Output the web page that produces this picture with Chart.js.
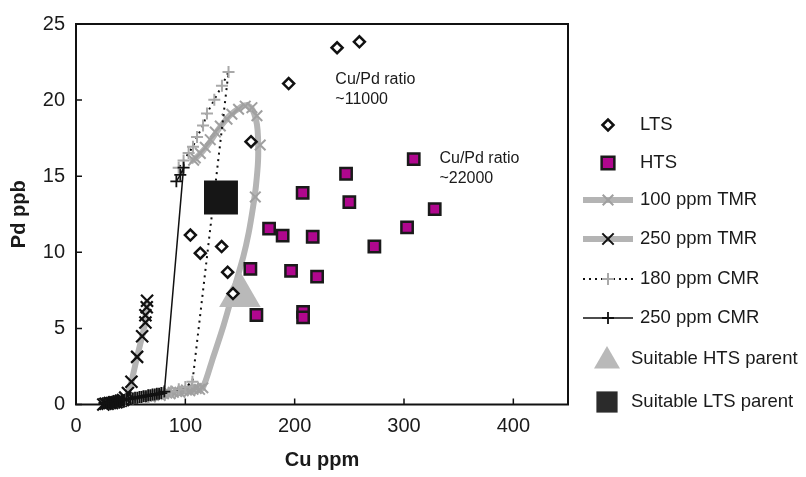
<!DOCTYPE html>
<html><head><meta charset="utf-8">
<script src="https://cdn.jsdelivr.net/npm/chart.js"></script>
<style>html,body{margin:0;padding:0;background:#fff;}#wrap{width:806px;height:477px;position:relative;}</style>
</head><body><div id="wrap"><canvas id="c" width="806" height="477"></canvas></div>
<script>
// ---------- data (Cu ppm, Pd ppb) ----------
const ltsCu = [238.8, 259.2, 194.5, 160.1, 104.6, 113.7, 133.2, 138.7, 143.6];
const ltsPd = [23.44, 23.83, 21.09, 17.27, 11.13, 9.94, 10.38, 8.69, 7.29];

const htsCu = [159.5, 176.6, 189.0, 196.7, 207.3, 207.7, 207.7, 216.5, 220.5, 247.0, 250.0, 272.9, 302.8, 308.9, 328.1, 165.0];
const htsPd = [8.91, 11.56, 11.09, 8.78, 13.91, 6.09, 5.73, 11.02, 8.40, 15.16, 13.30, 10.38, 11.64, 16.12, 12.84, 5.88];

const ltsParentCu = [132.6];
const ltsParentPd = [13.6];
const htsParentCu = [149.9];
const htsParentPd = [7.2];

// 100 ppm TMR model curve (line) and its markers
const tmr100LineCu = [40, 60, 80, 100, 110, 116, 125, 135, 145, 153, 158, 162, 164.5, 166.5, 166.5, 165.5, 163, 160.5, 157, 154, 151, 148, 144, 140, 136, 132, 128, 124, 120, 116, 112, 108, 105];
const tmr100LinePd = [0.3, 0.5, 0.65, 0.85, 0.95, 1.1, 3.0, 5.2, 7.7, 9.7, 11.3, 13.0, 14.3, 16.0, 17.5, 18.4, 19.1, 19.45, 19.65, 19.65, 19.55, 19.4, 19.2, 18.95, 18.6, 18.25, 17.85, 17.4, 17.0, 16.65, 16.35, 16.1, 15.95];
const tmr100MarkCu = [62, 65, 68, 71, 74, 77, 80, 83, 86, 89, 92, 95, 98, 101, 104, 107, 110, 113, 116, 164, 168.5, 165.5, 160.9, 154.8, 148.7, 142.6, 138.1, 132, 127.4, 122.8, 118.3, 113.7, 109.1, 107.6];
const tmr100MarkPd = [0.45, 0.55, 0.5, 0.6, 0.65, 0.6, 0.7, 0.75, 0.7, 0.8, 0.85, 0.8, 0.9, 0.95, 0.9, 1.0, 1.05, 1.0, 1.1, 13.64, 17.05, 18.97, 19.5, 19.6, 19.4, 19.07, 18.75, 18.3, 17.9, 17.4, 16.9, 16.5, 16.2, 16.05];

// 250 ppm TMR model curve
const tmr250Cu = [25, 27, 29, 31, 33, 35, 37, 39, 41, 43, 45, 47.5, 50.7, 55.9, 60.5, 63.5, 63.5, 64.7, 65.0];
const tmr250Pd = [0.0, 0.05, 0.05, 0.1, 0.1, 0.15, 0.15, 0.2, 0.25, 0.3, 0.45, 0.75, 1.49, 3.13, 4.48, 5.39, 5.86, 6.39, 6.82];

// 180 ppm CMR model curve
const cmr180Cu = [45, 52, 59, 66, 73, 80, 87, 94, 100, 106.5, 139.5, 133.5, 126.5, 119.8, 116.2, 110.7, 107.0, 103.0, 98.4, 93.9];
const cmr180Pd = [0.3, 0.4, 0.5, 0.55, 0.65, 0.75, 0.85, 1.0, 1.15, 1.5, 21.85, 20.95, 20.03, 19.12, 18.33, 17.58, 16.94, 16.52, 16.03, 15.56];

// 250 ppm CMR model curve
const cmr250Cu = [26, 28, 30, 32, 34, 36, 38, 40, 42, 44, 46, 48, 50, 52, 54, 56, 58, 60, 62, 64, 66, 68, 70, 72, 74, 76, 78, 80.8, 98.4, 95.4, 91.8];
const cmr250Pd = [0.1, 0.1, 0.15, 0.15, 0.2, 0.2, 0.25, 0.25, 0.3, 0.3, 0.35, 0.35, 0.4, 0.4, 0.45, 0.45, 0.5, 0.5, 0.55, 0.55, 0.6, 0.6, 0.65, 0.65, 0.7, 0.7, 0.75, 0.85, 15.56, 15.09, 14.66];

const xTicks = [0, 100, 200, 300, 400];
const yTicks = [0, 5, 10, 15, 20, 25];
const xTitle = 'Cu ppm';
const yTitle = 'Pd ppb';
const legendLabels = ['LTS', 'HTS', '100 ppm TMR', '250 ppm TMR', '180 ppm CMR', '250 ppm CMR', 'Suitable HTS parent', 'Suitable LTS parent'];
const noteLines = [['Cu/Pd ratio', '~11000'], ['Cu/Pd ratio', '~22000']];
const noteCu = [237.2, 332.4];
const notePd = [21.35, 16.17];

// ---------- rendering ----------
const FONT = "'Liberation Sans', Arial, Helvetica, sans-serif";
const TXT = '#1a1a1a';
const GREY_LINE = '#b4b4b4';
const pts = (xs, ys) => xs.map((x, i) => ({x: x, y: ys[i]}));

function drawMark(ctx, style, x, y, r, fill, stroke, lw) {
  ctx.save();
  ctx.beginPath();
  ctx.lineWidth = lw; ctx.strokeStyle = stroke; ctx.fillStyle = fill || '#000';
  if (style === 'rect') { const s = Math.SQRT1_2 * r; ctx.rect(x - s, y - s, 2 * s, 2 * s); }
  else if (style === 'rectRot') { ctx.moveTo(x - r, y); ctx.lineTo(x, y - r); ctx.lineTo(x + r, y); ctx.lineTo(x, y + r); ctx.closePath(); }
  else if (style === 'triangle') { const a = 2 * Math.PI / 3; for (let i = 0; i < 3; i++) { const t = i * a; const px = x + Math.sin(t) * r, py = y - Math.cos(t) * r; i ? ctx.lineTo(px, py) : ctx.moveTo(px, py); } ctx.closePath(); }
  else if (style === 'cross') { ctx.moveTo(x, y - r); ctx.lineTo(x, y + r); ctx.moveTo(x - r, y); ctx.lineTo(x + r, y); }
  else if (style === 'crossRot') { const o = Math.SQRT1_2 * r; ctx.moveTo(x - o, y - o); ctx.lineTo(x + o, y + o); ctx.moveTo(x - o, y + o); ctx.lineTo(x + o, y - o); }
  if (fill && style !== 'cross' && style !== 'crossRot') ctx.fill();
  if (lw > 0) ctx.stroke();
  ctx.restore();
}

const framePlugin = {
  id: 'frame',
  beforeDatasetsDraw(chart) {
    const {ctx, chartArea: a, scales} = chart;
    ctx.save();
    ctx.strokeStyle = '#111'; ctx.lineWidth = 2;
    ctx.strokeRect(a.left, a.top, a.right - a.left, a.bottom - a.top);
    ctx.lineWidth = 1.5;
    ctx.beginPath();
    xTicks.forEach(v => { const px = scales.x.getPixelForValue(v); ctx.moveTo(px, a.bottom); ctx.lineTo(px, a.bottom - 6); });
    yTicks.forEach(v => { const py = scales.y.getPixelForValue(v); ctx.moveTo(a.left, py); ctx.lineTo(a.left + 6, py); });
    ctx.stroke();
    ctx.restore();
  },
  afterDraw(chart) {
    const {ctx, scales} = chart;
    ctx.save();
    ctx.fillStyle = TXT;
    ctx.font = '16px ' + FONT;
    ctx.textBaseline = 'middle'; ctx.textAlign = 'left';
    noteLines.forEach((lines, i) => {
      const px = scales.x.getPixelForValue(noteCu[i]);
      const py = scales.y.getPixelForValue(notePd[i]);
      lines.forEach((t, j) => ctx.fillText(t, px, py + j * 20));
    });
    // legend
    const rows = [125, 163, 200, 239, 279, 318, 359, 402];
    const mx = 608, l0 = 583, l1 = 633;
    const line = (y, color, w, dash) => { ctx.save(); ctx.beginPath(); ctx.strokeStyle = color; ctx.lineWidth = w; ctx.setLineDash(dash || []); ctx.moveTo(l0, y); ctx.lineTo(l1, y); ctx.stroke(); ctx.restore(); };
    drawMark(ctx, 'rectRot', mx, rows[0], 5.5, '#fff', '#111', 2.5);
    drawMark(ctx, 'rect', mx, rows[1], 9, '#b0078e', '#1a1a1a', 2.5);
    line(rows[2], GREY_LINE, 6); drawMark(ctx, 'crossRot', mx, rows[2], 7.5, null, '#a0a0a0', 2);
    line(rows[3], GREY_LINE, 6); drawMark(ctx, 'crossRot', mx, rows[3], 8, null, '#111', 2);
    line(rows[4], '#111', 1.8, [2, 4]); drawMark(ctx, 'cross', mx, rows[4], 6, null, '#a9a9a9', 2);
    line(rows[5], '#111', 1.5); drawMark(ctx, 'cross', mx, rows[5], 6, null, '#111', 1.8);
    drawMark(ctx, 'triangle', 607, rows[6] + 2, 15, '#b9b9b9', '#b9b9b9', 0);
    drawMark(ctx, 'rect', 607, rows[7], 15, '#2b2b2b', '#2b2b2b', 0);
    ctx.fillStyle = TXT;
    ctx.font = '18.5px ' + FONT;
    legendLabels.forEach((t, i) => ctx.fillText(t, i < 6 ? 640 : 631, rows[i]));
    ctx.restore();
  }
};

new Chart(document.getElementById('c'), {
  type: 'scatter',
  data: {
    datasets: [
      {label: legendLabels[0], data: pts(ltsCu, ltsPd), pointStyle: 'rectRot', pointRadius: 5.5, pointBorderWidth: 2.5, pointBackgroundColor: '#fff', pointBorderColor: '#111', order: 0, clip: false},
      {label: legendLabels[1], data: pts(htsCu, htsPd), pointStyle: 'rect', pointRadius: 8, pointBorderWidth: 2.5, pointBackgroundColor: '#b0078e', pointBorderColor: '#1a1a1a', order: 1, clip: false},
      {label: legendLabels[7], data: pts(ltsParentCu, ltsParentPd), pointStyle: 'rect', pointRadius: 24, pointBorderWidth: 0, pointBackgroundColor: '#161616', pointBorderColor: '#161616', order: 2, clip: false},
      {label: legendLabels[6], data: pts(htsParentCu, htsParentPd), pointStyle: 'triangle', pointRadius: 24, pointBorderWidth: 0, pointBackgroundColor: '#b9b9b9', pointBorderColor: '#b9b9b9', order: 3, clip: false},
      {label: legendLabels[5], data: pts(cmr250Cu, cmr250Pd), showLine: true, borderColor: '#111', borderWidth: 1.5, pointStyle: 'cross', pointRadius: 6, pointBorderColor: '#111', pointBorderWidth: 1.8, order: 4, clip: false},
      {label: legendLabels[4], data: pts(cmr180Cu, cmr180Pd), showLine: true, borderColor: '#111', borderWidth: 2, borderDash: [2, 4.5], pointStyle: 'cross', pointRadius: 6, pointBorderColor: '#a9a9a9', pointBorderWidth: 2, order: 5, clip: false},
      {label: legendLabels[3], data: pts(tmr250Cu, tmr250Pd), showLine: true, borderColor: GREY_LINE, borderWidth: 6, borderJoinStyle: 'round', pointStyle: 'crossRot', pointRadius: 8.5, pointBorderColor: '#111', pointBorderWidth: 2.2, order: 6, clip: false},
      {label: legendLabels[2] + ' markers', data: pts(tmr100MarkCu, tmr100MarkPd), showLine: false, pointStyle: 'crossRot', pointRadius: 7.5, pointBorderColor: '#a0a0a0', pointBackgroundColor: '#a0a0a0', pointBorderWidth: 2, order: 7, clip: false},
      {label: legendLabels[2], data: pts(tmr100LineCu, tmr100LinePd), showLine: true, borderColor: GREY_LINE, borderWidth: 6, borderJoinStyle: 'round', tension: 0.25, pointRadius: 0, order: 8, clip: false}
    ]
  },
  options: {
    responsive: false, animation: false, events: [],
    layout: {padding: {top: 14, right: 238, left: 0, bottom: 0}},
    plugins: {legend: {display: false}, tooltip: {enabled: false}},
    scales: {
      x: {
        type: 'linear', min: 0, max: 450,
        afterBuildTicks: s => { s.ticks = xTicks.map(v => ({value: v})); },
        afterFit: s => { s.height = 72.5; },
        grid: {display: false, drawTicks: false}, border: {display: false},
        ticks: {font: {family: FONT, size: 20}, color: TXT, padding: 10, maxRotation: 0, autoSkip: false},
        title: {display: true, text: xTitle, color: TXT, font: {family: FONT, size: 20, weight: 'bold'}, padding: {top: 0, bottom: 5}}
      },
      y: {
        type: 'linear', min: 0, max: 25,
        afterBuildTicks: s => { s.ticks = yTicks.map(v => ({value: v})); },
        afterFit: s => { s.width = 76; },
        grid: {display: false, drawTicks: false}, border: {display: false},
        ticks: {font: {family: FONT, size: 20}, color: TXT, padding: 11, autoSkip: false},
        title: {display: true, text: yTitle, color: TXT, font: {family: FONT, size: 20, weight: 'bold'}, padding: {top: 7, bottom: 0}}
      }
    }
  },
  plugins: [framePlugin]
});
</script></body></html>
